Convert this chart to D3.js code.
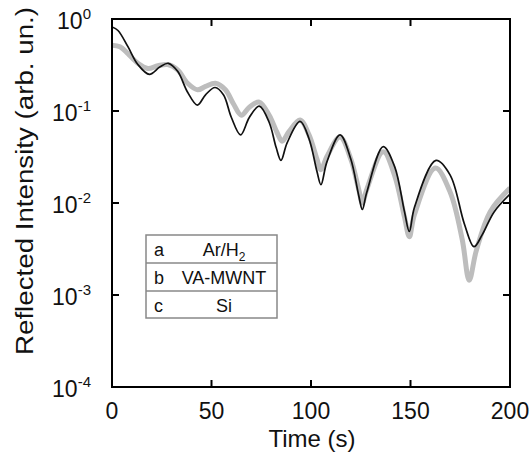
<!DOCTYPE html>
<html>
<head>
<meta charset="utf-8">
<script src="https://cdn.jsdelivr.net/npm/d3@7"></script>
<style>
    body { margin: 0; background: #fff; }
    svg { display: block; font-family: "Liberation Sans", Arial, sans-serif; }
</style>
</head>
<body>
<svg id="chart" width="532" height="454"></svg>
<script>
// black curve (a) - time in s, reflected intensity
const blackTime = [0, 3, 8, 13, 18.8, 24, 28.3, 33, 38, 42.9, 47, 51.8, 56, 60, 64.6, 69, 74, 79, 82.5, 84.9,
    88, 94.5, 99, 103, 105, 108, 114.6, 120, 124, 125.8, 128, 136.3, 142, 147, 149.4, 152, 162.8, 170, 177,
    181.9, 186, 192, 200];
const blackValue = [0.82, 0.75, 0.5, 0.32, 0.25, 0.3, 0.33, 0.27, 0.16, 0.116, 0.15, 0.18, 0.15, 0.085, 0.055,
    0.085, 0.113, 0.075, 0.04, 0.029, 0.045, 0.077, 0.05, 0.022, 0.0158, 0.028, 0.055, 0.03, 0.012, 0.0085,
    0.013, 0.041, 0.025, 0.008, 0.0049, 0.009, 0.029, 0.02, 0.006, 0.00335, 0.0045, 0.008, 0.0125];

// grey curve
const greyTime = [0, 4, 8, 13, 18, 23, 28, 33, 38, 43, 47, 52, 57, 61, 65, 69, 74, 79, 83, 85.5,
    89, 94.5, 99, 103, 105, 108, 114.6, 120, 124, 125.8, 128, 136.3, 142, 147, 149.4, 152, 162.5, 170, 176,
    179.5, 183, 190, 200];
const greyValue = [0.52, 0.5, 0.42, 0.33, 0.29, 0.31, 0.32, 0.28, 0.2, 0.17, 0.185, 0.2, 0.17, 0.12, 0.09,
    0.11, 0.125, 0.09, 0.058, 0.047, 0.06, 0.08, 0.055, 0.03, 0.023, 0.032, 0.052, 0.03, 0.014, 0.01,
    0.014, 0.036, 0.02, 0.007, 0.0043, 0.0075, 0.024, 0.013, 0.004, 0.00145, 0.003, 0.008, 0.0145];

const xTicks = [0, 50, 100, 150, 200];
const yExponents = [0, -1, -2, -3, -4];
const legendKeys = ['a', 'b', 'c'];
const legendLabels = [['Ar/H', '2'], ['VA-MWNT', ''], ['Si', '']];

const plotL = 112, plotR = 510, plotT = 19, plotB = 387;

const x = d3.scaleLinear().domain([0, 200]).range([plotL, plotR]);
const y = d3.scaleLog().domain([1e-4, 1]).range([plotB, plotT]);

const svg = d3.select('#chart');

svg.append('clipPath').attr('id', 'plot-clip')
    .append('rect')
    .attr('x', plotL).attr('y', plotT)
    .attr('width', plotR - plotL).attr('height', plotB - plotT);

const line = d3.line()
    .x(d => x(d[0]))
    .y(d => y(d[1]))
    .curve(d3.curveCatmullRom.alpha(0.5));

const plot = svg.append('g').attr('clip-path', 'url(#plot-clip)');

plot.append('path')
    .datum(greyTime.map((t, i) => [t, greyValue[i]]))
    .attr('d', line)
    .attr('fill', 'none')
    .attr('stroke', '#bdbdbd')
    .attr('stroke-width', 5)
    .attr('stroke-linejoin', 'round');

plot.append('path')
    .datum(blackTime.map((t, i) => [t, blackValue[i]]))
    .attr('d', line)
    .attr('fill', 'none')
    .attr('stroke', '#111')
    .attr('stroke-width', 1.7)
    .attr('stroke-linejoin', 'round');

// inward ticks on all four sides
const tickLen = 7;
const axes = svg.append('g').attr('stroke', '#000').attr('stroke-width', 2);
axes.selectAll('.xb').data(xTicks.slice(1, -1)).join('line')
    .attr('x1', d => x(d)).attr('x2', d => x(d))
    .attr('y1', plotB).attr('y2', plotB - tickLen);
axes.selectAll('.xt').data(xTicks.slice(1, -1)).join('line')
    .attr('x1', d => x(d)).attr('x2', d => x(d))
    .attr('y1', plotT).attr('y2', plotT + tickLen);
axes.selectAll('.yl').data(yExponents.slice(1, -1)).join('line')
    .attr('x1', plotL).attr('x2', plotL + tickLen)
    .attr('y1', d => y(Math.pow(10, d))).attr('y2', d => y(Math.pow(10, d)));
axes.selectAll('.yr').data(yExponents.slice(1, -1)).join('line')
    .attr('x1', plotR).attr('x2', plotR - tickLen)
    .attr('y1', d => y(Math.pow(10, d))).attr('y2', d => y(Math.pow(10, d)));

svg.append('rect')
    .attr('x', plotL).attr('y', plotT)
    .attr('width', plotR - plotL).attr('height', plotB - plotT)
    .attr('fill', 'none').attr('stroke', '#000').attr('stroke-width', 2);

// tick labels
svg.append('g').selectAll('text').data(xTicks).join('text')
    .attr('x', d => x(d)).attr('y', 419)
    .attr('text-anchor', 'middle')
    .attr('font-size', 23)
    .attr('fill', '#111')
    .text(d => d);

const yl = svg.append('g').selectAll('text').data(yExponents).join('text')
    .attr('x', 91).attr('y', d => y(Math.pow(10, d)) + 10)
    .attr('text-anchor', 'end')
    .attr('font-size', 23)
    .attr('fill', '#111');
yl.append('tspan').text('10');
yl.append('tspan').attr('dy', -10).attr('font-size', 15).text(d => d === 0 ? '0' : '-' + Math.abs(d));

// axis titles
svg.append('text')
    .attr('x', 312).attr('y', 447)
    .attr('text-anchor', 'middle')
    .attr('font-size', 24)
    .attr('fill', '#111')
    .text('Time (s)');

svg.append('text')
    .attr('transform', 'translate(33,181) rotate(-90)')
    .attr('text-anchor', 'middle')
    .attr('font-size', 23)
    .attr('textLength', 348)
    .attr('lengthAdjust', 'spacingAndGlyphs')
    .attr('fill', '#111')
    .text('Reflected Intensity (arb. un.)');

// legend table
const lx = 146, lw = 131, ly = 235, rowH = [28, 28, 27];
const rowY = [ly, ly + rowH[0], ly + rowH[0] + rowH[1]];
const legend = svg.append('g');
legend.append('rect')
    .attr('x', lx).attr('y', ly).attr('width', lw).attr('height', d3.sum(rowH))
    .attr('fill', '#fff').attr('stroke', '#888').attr('stroke-width', 1.5);
legend.selectAll('line').data(rowY.slice(1)).join('line')
    .attr('x1', lx).attr('x2', lx + lw)
    .attr('y1', d => d).attr('y2', d => d)
    .attr('stroke', '#888').attr('stroke-width', 1.5);
legend.selectAll('.key').data(legendKeys).join('text')
    .attr('x', 154).attr('y', (d, i) => rowY[i] + 21)
    .attr('font-size', 18).attr('fill', '#111')
    .text(d => d);
const lab = legend.selectAll('.lab').data(legendLabels).join('text')
    .attr('x', 224).attr('y', (d, i) => rowY[i] + 21)
    .attr('text-anchor', 'middle')
    .attr('font-size', 18).attr('fill', '#111');
lab.append('tspan').text(d => d[0]);
lab.append('tspan').attr('dy', 5).attr('font-size', 12).text(d => d[1]);
</script>
</body>
</html>
